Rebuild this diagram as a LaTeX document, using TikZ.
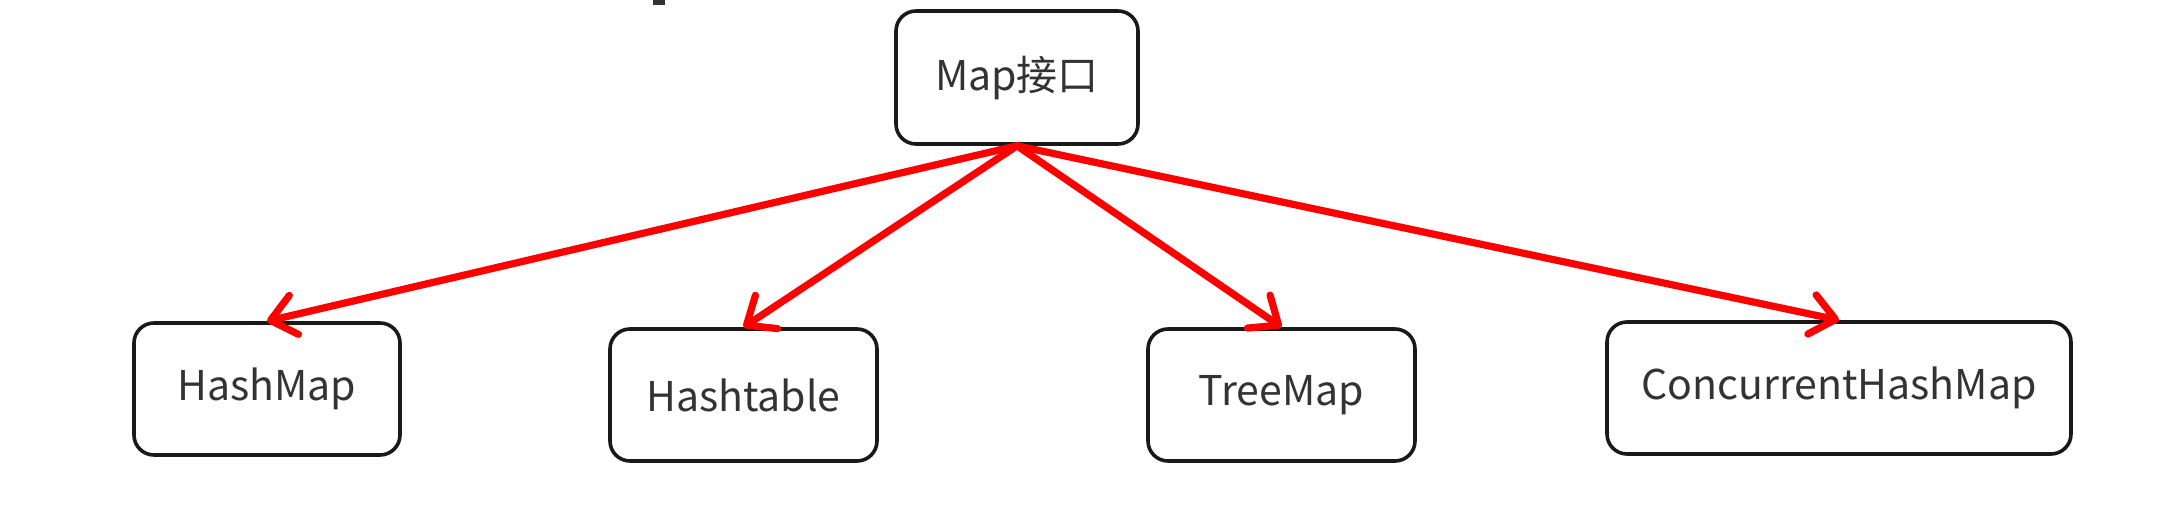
\documentclass[tikz,border=0pt]{standalone}
\usepackage{fontspec}
\setmainfont{Noto Sans CJK SC}
\usetikzlibrary{arrows.meta}
\definecolor{txt}{HTML}{333333}
\definecolor{arrred}{HTML}{FF0000}
\tikzset{
  box/.style={draw=black!90, line width=1.8pt, rounded corners=10pt, fill=white,
    minimum height=66pt, inner sep=0pt, text=txt, font=\fontsize{20.5}{24}\selectfont},
  link/.style={draw=arrred, line width=3.6pt, line cap=round,
    -{Straight Barb[length=12pt,width=20pt,line width=3.6pt,round]}}
}
\begin{document}
\begin{tikzpicture}[x=0.5pt,y=-0.5pt]
\useasboundingbox (0,0) rectangle (2169,519);
\fill[txt] (653,0) rectangle (665,5);
\node[box, minimum width=121pt, minimum height=66.5pt] (map) at (1017,77.5) {Map接口};
\node[box, minimum width=133pt] (hm) at (267,389) {HashMap};
\node[box, minimum width=133.5pt] (ht) at (743.5,395) {Hashtable};
\node[box, minimum width=133.5pt] (tm) at (1281.5,395) {TreeMap};
\node[box, minimum width=232pt] (chm) at (1839,388) {ConcurrentHashMap};
\draw[link] (map.south) -- (hm.north);
\draw[link] (map.south) -- (ht.north);
\draw[link] (map.south) -- (tm.north);
\draw[link] (map.south) -- (chm.north);
\end{tikzpicture}
\end{document}
